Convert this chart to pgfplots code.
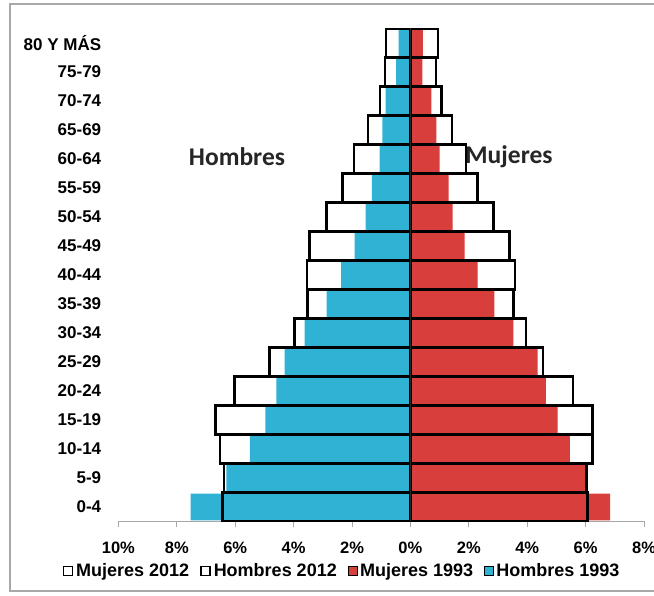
\documentclass[border=0pt]{standalone}
\usepackage{fontspec}
\setmainfont{Liberation Sans}
\newfontfamily\calibri{Carlito}
\usepackage{pgfplots}
\pgfplotsset{compat=1.18}
\definecolor{hblue}{HTML}{30B2D5}
\definecolor{mred}{HTML}{D83E3B}
\definecolor{framegray}{HTML}{A8A8A8}
\begin{document}
\begin{tikzpicture}[x=1pt,y=1pt]
\useasboundingbox (0,0) rectangle (654,596);
\draw[framegray, line width=1.2pt] (10,5) rectangle (720,592);
\begin{axis}[
  at={(118.4pt,74.5pt)}, anchor=south west,
  scale only axis, width=525.6pt, height=493pt,
  xmin=-10, xmax=8, ymin=-0.5, ymax=16.5,
  axis x line*=bottom, axis y line*=left,
  x axis line style={-, framegray, line width=1pt},
  y axis line style={draw=none},
  xtick={-10,-8,...,8},
  xticklabels={10\%,8\%,6\%,4\%,2\%,0\%,2\%,4\%,6\%,8\%},
  ytick={0,...,16},
  yticklabels={0-4,5-9,10-14,15-19,20-24,25-29,30-34,35-39,40-44,45-49,50-54,55-59,60-64,65-69,70-74,75-79,80 Y MÁS},
  tick align=outside,
  major tick length=6pt,
  x tick style={framegray, line width=1pt},
  y tick style={draw=none},
  xticklabel style={font=\bfseries\fontsize{16.5}{16.5}\selectfont, inner sep=0pt, yshift=-14pt},
  yticklabel style={font=\bfseries\fontsize{17}{17}\selectfont, inner sep=0pt, anchor=east, xshift=-11pt},
  legend style={draw=none, fill=none, at={(0.4245,-0.1004)}, anchor=center,
    legend columns=4, font=\bfseries\fontsize{18}{18}\selectfont,
    /tikz/every even column/.append style={column sep=10pt},
    nodes={inner sep=1pt}},
  legend cell align=left,
  legend image code/.code={\draw[#1] (0pt,-4.5pt) rectangle (9pt,4.5pt); \path (11pt,0pt);},
]
% Hombres 1993
\addplot[xbar, bar shift=0pt, bar width=0.92, draw=none, fill=hblue, forget plot]
 coordinates {(-7.53,0) (-6.30,1) (-5.50,2) (-4.97,3) (-4.59,4) (-4.31,5) (-3.62,6) (-2.87,7) (-2.37,8) (-1.91,9) (-1.53,10) (-1.32,11) (-1.05,12) (-0.96,13) (-0.85,14) (-0.49,15) (-0.40,16)};
% Mujeres 1993
\addplot[xbar, bar shift=0pt, bar width=0.92, draw=none, fill=mred, forget plot]
 coordinates {(6.84,0) (6.01,1) (5.46,2) (5.04,3) (4.64,4) (4.36,5) (3.53,6) (2.88,7) (2.30,8) (1.86,9) (1.45,10) (1.31,11) (1.00,12) (0.89,13) (0.72,14) (0.41,15) (0.43,16)};
% Hombres 2012
\addplot[xbar, bar shift=0pt, bar width=1, draw=black, line width=2.4pt, fill=none, forget plot]
 coordinates {(-6.44,0) (-6.38,1) (-6.53,2) (-6.67,3) (-6.02,4) (-4.82,5) (-3.97,6) (-3.52,7) (-3.55,8) (-3.45,9) (-2.87,10) (-2.33,11) (-1.94,12) (-1.45,13) (-1.05,14) (-0.88,15) (-0.83,16)};
% Mujeres 2012
\addplot[xbar, bar shift=0pt, bar width=1, draw=black, line width=2.4pt, fill=none, forget plot]
 coordinates {(6.06,0) (6.03,1) (6.23,2) (6.23,3) (5.56,4) (4.55,5) (3.96,6) (3.53,7) (3.58,8) (3.39,9) (2.85,10) (2.30,11) (1.90,12) (1.42,13) (1.06,14) (0.88,15) (0.94,16)};
% centre line
\addplot[black!85, line width=1.6pt, forget plot] coordinates {(0,-0.5) (0,16.5)};
\addlegendimage{draw=black, line width=1.5pt, fill=white}
\addlegendimage{draw=black, line width=1.5pt, fill=white}
\addlegendimage{draw=none, fill=mred}
\addlegendimage{draw=none, fill=hblue}
\legend{Mujeres 2012,Hombres 2012,Mujeres 1993,Hombres 1993}
\end{axis}
\node[font=\calibri\bfseries\fontsize{25.5}{25.5}\selectfont, text=black!85] at (237,439) {Hombres};
\node[font=\calibri\bfseries\fontsize{25.5}{25.5}\selectfont, text=black!85] at (509,439) {Mujeres};
\end{tikzpicture}
\end{document}
